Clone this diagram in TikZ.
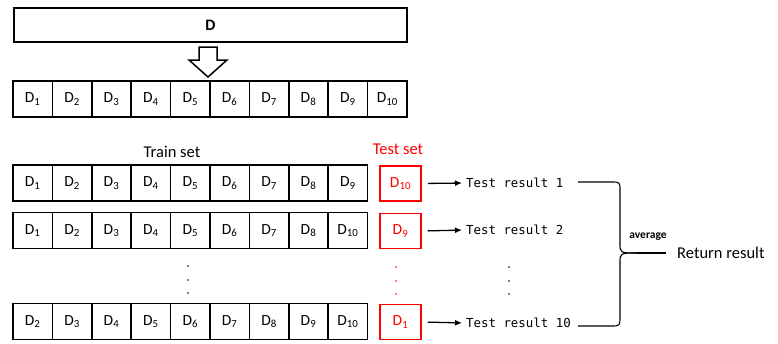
\documentclass[tikz,border=0pt]{standalone}
\usepackage{fontspec}
\setmainfont{Carlito}
\newfontfamily\monofont{DejaVu Sans Mono}
\usetikzlibrary{positioning,arrows.meta}

\begin{document}
\begin{tikzpicture}[x=1pt, y=-1pt,
    cell/.style={draw, line width=1.5pt, minimum width=39.4pt, minimum height=36pt,
                 inner sep=0pt, font=\fontsize{15.5}{18}\selectfont},
    testcell/.style={cell, draw=red, text=red, minimum width=41pt, minimum height=35pt},
    lbl/.style={inner sep=0pt, font=\fontsize{16.5}{19}\selectfont},
    result/.style={inner sep=0pt, anchor=west, font=\monofont\fontsize{12.4}{14}\selectfont},
    arr/.style={-{Latex[length=7pt,width=6pt]}, line width=1.3pt, shorten <=6pt, shorten >=4pt},
    brace/.style={line width=1.1pt}
]
\useasboundingbox (0,0) rectangle (778,343);

% --- Whole data set ---
\node[draw, line width=1.5pt, minimum width=393pt, minimum height=34pt, inner sep=0pt,
      font=\fontsize{16}{18}\selectfont\bfseries] (full) at (210.5,25) {D};

% --- Split arrow ---
\draw[line width=1.5pt, fill=white] (199,47) -- (217,47) -- (217,60) -- (227,60)
    -- (208,77) -- (189,60) -- (199,60) -- cycle;

% --- Ten folds ---
\foreach \i in {1,...,10} {
    \node[cell] (f\i) at ({13+39.4*(\i-0.5)},99) {D\textsubscript{\i}};
}

% --- Train / test labels ---
\node[lbl] (trainlbl) at (172,152) {Train set};
\node[lbl, text=red] (testlbl) at (398,149) {Test set};

% --- Round 1 ---
\foreach \lab [count=\i] in {1,...,9} {
    \node[cell] (a\i) at ({13+39.4*(\i-0.5)},183) {D\textsubscript{\lab}};
}
\node[testcell] (te1) at (400.5,183.5) {D\textsubscript{10}};

% --- Round 2 ---
\foreach \lab [count=\i] in {1,2,3,4,5,6,7,8,10} {
    \node[cell] (b\i) at ({13+39.4*(\i-0.5)},230.5) {D\textsubscript{\lab}};
}
\node[testcell] (te2) at (400.5,231) {D\textsubscript{9}};

% --- Round 10 ---
\foreach \lab [count=\i] in {2,...,10} {
    \node[cell] (c\i) at ({13+39.4*(\i-0.5)},321.5) {D\textsubscript{\lab}};
}
\node[testcell] (te10) at (400.5,322) {D\textsubscript{1}};

% --- Dots ---
\foreach \y in {266,280,293} {
    \fill (188,\y) circle (0.9pt);
    \fill[red] (396,\y+1) circle (0.9pt);
    \fill (509,\y+1) circle (0.9pt);
}

% --- Results ---
\node[result] (res1) at (466,183) {Test result 1};
\node[result] (res2) at (466,230) {Test result 2};
\node[result] (res10) at (466,323) {Test result 10};

\draw[arr] (te1.east) -- (res1.west);
\draw[arr] (te2.east) -- (res2.west);
\draw[arr] (te10.east) -- (res10.west);

% --- Average brace ---
\node[lbl, anchor=west] (ret) at (677,253) {Return result};
\node[inner sep=0pt, font=\fontsize{11.5}{13}\selectfont\bfseries] (avg) at (648,237) {average};
\coordinate (b1) at (578,182);
\coordinate (b10) at (578,326);
\coordinate (tip) at (637,253);
\draw[brace] (b1) -- (611,182) .. controls (620,182) .. (620,191) -- (620,243)
    .. controls (620,253) .. (tip);
\draw[brace] (tip) .. controls (620,253) .. (620,263) -- (620,316)
    .. controls (620,326) .. (611,326) -- (b10);
\draw[brace] (tip) -- ([xshift=-11pt]ret.west);

\end{tikzpicture}
\end{document}
